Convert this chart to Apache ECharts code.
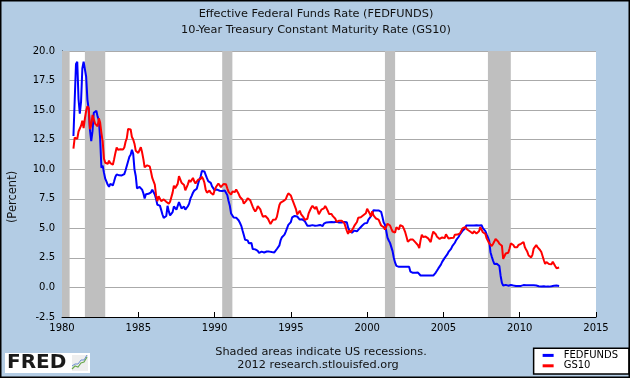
<!DOCTYPE html>
<html>
<head>
<meta charset="utf-8">
<script src="https://cdn.jsdelivr.net/npm/echarts@6/dist/echarts.min.js"></script>
<style>
html,body{margin:0;padding:0;background:#b3cce4;}
#chart{width:630px;height:378px;}
</style>
</head>
<body>
<div id="chart"></div>
<script>
// Monthly data, starting October 1980, ending August 2012
const startYear = 1980;
const startMonth = 10;

const fedfunds = [
  12.81, 15.85, 18.90,
  19.08, 15.93, 14.70, 15.72, 18.52, 19.10, 19.04, 17.82, 15.87, 15.08, 13.31, 12.37,
  13.22, 14.78, 14.68, 14.94, 14.45, 14.15, 12.59, 10.12, 10.31, 9.71, 9.20, 8.95,
  8.68, 8.51, 8.77, 8.80, 8.63, 8.98, 9.37, 9.56, 9.45, 9.48, 9.34, 9.47,
  9.56, 9.59, 9.91, 10.29, 10.32, 11.06, 11.23, 11.64, 11.30, 9.99, 9.43, 8.38,
  8.35, 8.50, 8.58, 8.27, 7.97, 7.53, 7.88, 7.90, 7.92, 7.99, 8.05, 8.27,
  8.14, 7.86, 7.48, 6.99, 6.85, 6.92, 6.56, 6.17, 5.89, 5.85, 6.04, 6.91,
  6.43, 6.10, 6.13, 6.37, 6.85, 6.73, 6.58, 6.73, 7.22, 7.29, 6.69, 6.77,
  6.83, 6.58, 6.58, 6.87, 7.09, 7.51, 7.75, 8.01, 8.19, 8.30, 8.35, 8.76,
  9.12, 9.36, 9.85, 9.84, 9.81, 9.53, 9.24, 8.99, 9.02, 8.84, 8.55, 8.45,
  8.23, 8.24, 8.28, 8.26, 8.18, 8.29, 8.15, 8.13, 8.20, 8.11, 7.81, 7.31,
  6.91, 6.25, 6.12, 5.91, 5.78, 5.90, 5.82, 5.66, 5.45, 5.21, 4.81, 4.43,
  4.03, 4.06, 3.98, 3.73, 3.82, 3.76, 3.25, 3.30, 3.22, 3.10, 3.09, 2.92,
  3.02, 3.03, 3.07, 2.96, 3.00, 3.04, 3.06, 3.03, 3.09, 2.99, 3.02, 2.96,
  3.05, 3.25, 3.34, 3.56, 4.01, 4.25, 4.26, 4.47, 4.73, 4.76, 5.29, 5.45,
  5.53, 5.92, 5.98, 6.05, 6.01, 6.00, 5.85, 5.74, 5.80, 5.76, 5.80, 5.60,
  5.56, 5.22, 5.31, 5.22, 5.24, 5.27, 5.40, 5.22, 5.30, 5.24, 5.31, 5.29,
  5.25, 5.19, 5.39, 5.51, 5.50, 5.56, 5.52, 5.54, 5.54, 5.50, 5.52, 5.50,
  5.56, 5.51, 5.49, 5.45, 5.49, 5.56, 5.54, 5.55, 5.51, 5.07, 4.83, 4.68,
  4.63, 4.76, 4.81, 4.74, 4.74, 4.76, 4.99, 5.07, 5.22, 5.20, 5.42, 5.30,
  5.45, 5.73, 5.85, 6.02, 6.27, 6.53, 6.54, 6.50, 6.52, 6.51, 6.51, 6.40,
  5.98, 5.49, 5.31, 4.80, 4.21, 3.97, 3.77, 3.65, 3.07, 2.49, 2.09, 1.82,
  1.73, 1.74, 1.73, 1.75, 1.75, 1.75, 1.73, 1.74, 1.75, 1.75, 1.34, 1.24,
  1.24, 1.26, 1.25, 1.26, 1.26, 1.22, 1.01, 1.03, 1.01, 1.01, 1.00, 0.98,
  1.00, 1.01, 1.00, 1.00, 1.00, 1.03, 1.26, 1.43, 1.61, 1.76, 1.93, 2.16,
  2.28, 2.50, 2.63, 2.79, 3.00, 3.04, 3.26, 3.50, 3.62, 3.78, 4.00, 4.16,
  4.29, 4.49, 4.59, 4.79, 4.94, 4.99, 5.24, 5.25, 5.25, 5.25, 5.25, 5.24,
  5.25, 5.26, 5.26, 5.25, 5.25, 5.25, 5.26, 5.02, 4.94, 4.76, 4.49, 4.24,
  3.94, 2.98, 2.61, 2.28, 1.98, 2.00, 2.01, 2.00, 1.81, 0.97, 0.39, 0.16,
  0.15, 0.22, 0.18, 0.15, 0.18, 0.21, 0.16, 0.16, 0.15, 0.12, 0.12, 0.12,
  0.11, 0.13, 0.16, 0.20, 0.20, 0.18, 0.18, 0.19, 0.19, 0.19, 0.19, 0.18,
  0.17, 0.16, 0.14, 0.10, 0.09, 0.09, 0.07, 0.10, 0.08, 0.07, 0.08, 0.07,
  0.08, 0.10, 0.13, 0.14, 0.16, 0.16, 0.16, 0.13
];

const gs10 = [
  11.75, 12.68, 12.84,
  12.57, 13.19, 13.12, 13.68, 14.10, 13.47, 14.28, 14.94, 15.32, 15.15, 13.39, 13.72,
  14.59, 14.43, 13.86, 13.87, 13.62, 14.30, 13.95, 13.06, 12.34, 10.91, 10.55, 10.54,
  10.46, 10.72, 10.51, 10.40, 10.38, 10.85, 11.38, 11.85, 11.65, 11.54, 11.69, 11.83,
  11.67, 11.84, 12.32, 12.63, 13.41, 13.56, 13.36, 12.72, 12.52, 12.16, 11.57, 11.50,
  11.38, 11.51, 11.86, 11.43, 10.85, 10.16, 10.31, 10.33, 10.37, 10.24, 9.78, 9.26,
  9.19, 8.70, 7.78, 7.30, 7.71, 7.80, 7.30, 7.17, 7.45, 7.43, 7.25, 7.11,
  7.08, 7.25, 7.25, 8.02, 8.61, 8.40, 8.45, 8.76, 9.42, 9.52, 8.86, 8.99,
  8.67, 8.21, 8.37, 8.72, 9.09, 8.92, 9.06, 9.26, 8.98, 8.80, 8.96, 9.11,
  9.09, 9.17, 9.36, 9.18, 8.86, 8.28, 8.02, 8.11, 8.19, 8.01, 7.87, 7.84,
  8.21, 8.47, 8.59, 8.79, 8.76, 8.48, 8.47, 8.75, 8.89, 8.72, 8.39, 8.08,
  8.09, 7.85, 8.11, 8.04, 8.07, 8.28, 8.27, 7.90, 7.65, 7.53, 7.42, 7.09,
  7.03, 7.34, 7.54, 7.48, 7.39, 7.26, 6.84, 6.59, 6.42, 6.59, 6.87, 6.77,
  6.60, 6.26, 5.98, 5.97, 6.04, 5.96, 5.81, 5.68, 5.36, 5.33, 5.72, 5.77,
  5.75, 5.97, 6.48, 6.97, 7.18, 7.10, 7.30, 7.24, 7.46, 7.74, 7.96, 7.81,
  7.78, 7.47, 7.20, 7.06, 6.63, 6.17, 6.28, 6.49, 6.20, 6.04, 5.93, 5.71,
  5.65, 5.81, 6.27, 6.51, 6.74, 6.91, 6.87, 6.64, 6.83, 6.53, 6.20, 6.30,
  6.58, 6.42, 6.69, 6.89, 6.71, 6.49, 6.22, 6.30, 6.21, 6.03, 5.88, 5.81,
  5.54, 5.57, 5.65, 5.64, 5.65, 5.50, 5.46, 5.34, 4.81, 4.53, 4.83, 4.65,
  4.72, 5.00, 5.23, 5.18, 5.54, 5.90, 5.79, 5.94, 5.92, 6.11, 6.03, 6.28,
  6.66, 6.52, 6.26, 5.99, 6.44, 6.10, 6.05, 5.83, 5.80, 5.74, 5.72, 5.24,
  5.16, 5.10, 4.89, 5.14, 5.39, 5.28, 5.24, 4.97, 4.73, 4.57, 4.65, 5.09,
  5.04, 4.91, 5.28, 5.21, 5.16, 4.93, 4.65, 4.26, 3.87, 3.94, 4.05, 4.03,
  4.05, 3.90, 3.81, 3.96, 3.57, 3.33, 3.98, 4.45, 4.27, 4.29, 4.30, 4.27,
  4.15, 4.08, 3.83, 4.35, 4.72, 4.73, 4.50, 4.28, 4.13, 4.10, 4.19, 4.23,
  4.22, 4.17, 4.50, 4.34, 4.14, 4.00, 4.18, 4.26, 4.20, 4.46, 4.54, 4.47,
  4.42, 4.57, 4.72, 4.99, 5.11, 5.11, 5.09, 4.88, 4.72, 4.73, 4.60, 4.56,
  4.76, 4.72, 4.56, 4.69, 4.75, 5.10, 5.00, 4.67, 4.52, 4.53, 4.15, 4.10,
  3.74, 3.74, 3.51, 3.68, 3.88, 4.10, 4.01, 3.89, 3.69, 3.81, 3.53, 2.42,
  2.52, 2.87, 2.82, 2.93, 3.29, 3.72, 3.56, 3.59, 3.40, 3.39, 3.40, 3.59,
  3.73, 3.69, 3.73, 3.85, 3.42, 3.20, 3.01, 2.70, 2.65, 2.54, 2.76, 3.29,
  3.39, 3.58, 3.41, 3.46, 3.17, 3.00, 3.00, 2.30, 1.98, 2.15, 2.01, 1.98,
  1.97, 1.97, 2.17, 2.05, 1.80, 1.62, 1.53, 1.68
];

// US recessions (peak month, trough month)
const recessions = [
  ['1980-01', '1980-07'],
  ['1981-07', '1982-11'],
  ['1990-07', '1991-03'],
  ['2001-03', '2001-11'],
  ['2007-12', '2009-06']
];

const seriesNames = ['FEDFUNDS', 'GS10'];
const titleLines = ['Effective Federal Funds Rate (FEDFUNDS)', '10-Year Treasury Constant Maturity Rate (GS10)'];
const footerLines = ['Shaded areas indicate US recessions.', '2012 research.stlouisfed.org'];
const xMin = 1980, xMax = 2015, xStep = 5;
const yMin = -2.5, yMax = 20, yStep = 2.5;

function monthX(i) { return startYear + (startMonth - 1 + i) / 12; }
function ym(s) { const p = s.split('-').map(Number); return p[0] + (p[1] - 1) / 12; }

const font = 'DejaVu Sans, Verdana, sans-serif';
const chart = echarts.init(document.getElementById('chart'), null, {renderer: 'canvas'});

chart.setOption({
  animation: false,
  backgroundColor: '#b3cce4',
  grid: {left: 62, right: 34, top: 51, bottom: 61, show: true, backgroundColor: '#ffffff', borderWidth: 0},
  xAxis: {
    type: 'value', min: xMin, max: xMax, interval: xStep,
    axisLine: {show: true, onZero: false, lineStyle: {color: '#000', width: 1}},
    axisTick: {show: true, inside: true, length: 5, lineStyle: {color: '#000'}},
    axisLabel: {color: '#000', fontSize: 10, fontFamily: font, margin: 6, formatter: v => String(Math.round(v))},
    splitLine: {show: false}
  },
  yAxis: {
    type: 'value', min: yMin, max: yMax, interval: yStep,
    axisLine: {show: true, lineStyle: {color: '#000', width: 1}},
    axisTick: {show: true, inside: true, length: 5, lineStyle: {color: '#000'}},
    axisLabel: {color: '#000', fontSize: 10, fontFamily: font, margin: 7, formatter: v => v.toFixed(1)},
    splitLine: {show: true, lineStyle: {color: '#aaaaaa', width: 1}}
  },
  legend: {
    data: seriesNames, orient: 'vertical', right: 1, bottom: 4,
    backgroundColor: '#ffffff', borderColor: '#000', borderWidth: 1.5, borderRadius: 0,
    padding: [2, 11, 3, 9], itemGap: 0, itemWidth: 11, itemHeight: 3, icon: 'rect',
    textStyle: {fontSize: 10, fontFamily: font, color: '#000', lineHeight: 10.4, padding: [0, 0, 0, 5]}
  },
  series: [
    {
      name: seriesNames[0], type: 'line', showSymbol: false, symbol: 'none',
      data: fedfunds.map((v, i) => [monthX(i), v]),
      lineStyle: {color: '#0000ff', width: 2}, itemStyle: {color: '#0000ff'},
      clip: true, z: 3,
      markArea: {
        silent: true, itemStyle: {color: '#bfbfbf'},
        data: recessions.map(r => [{xAxis: ym(r[0])}, {xAxis: ym(r[1])}])
      }
    },
    {
      name: seriesNames[1], type: 'line', showSymbol: false, symbol: 'none',
      data: gs10.map((v, i) => [monthX(i), v]),
      lineStyle: {color: '#ff0000', width: 2}, itemStyle: {color: '#ff0000'},
      clip: true, z: 4
    }
  ],
  graphic: [
    {type: 'text', x: 316, y: 14.5, style: {text: titleLines[0], font: '11.3px ' + font, fill: '#111', textAlign: 'center', textVerticalAlign: 'middle'}},
    {type: 'text', x: 316, y: 30.5, style: {text: titleLines[1], font: '11.3px ' + font, fill: '#111', textAlign: 'center', textVerticalAlign: 'middle'}},
    {type: 'text', x: 13, y: 197, rotation: Math.PI / 2, style: {text: '(Percent)', font: '11.5px ' + font, fill: '#111', textAlign: 'center', textVerticalAlign: 'middle'}},
    {type: 'text', x: 321, y: 351.7, style: {text: footerLines[0], font: '11.3px ' + font, fill: '#111', textAlign: 'center', textVerticalAlign: 'middle'}},
    {type: 'text', x: 318, y: 365, style: {text: footerLines[1], font: '11.3px ' + font, fill: '#111', textAlign: 'center', textVerticalAlign: 'middle'}},
    {type: 'rect', shape: {x: 5, y: 353, width: 85, height: 20}, style: {fill: '#ffffff'}},
    {type: 'text', x: 7, y: 363, style: {text: 'FRED', font: 'bold 20px DejaVu Sans, sans-serif', fill: '#1a1a1a', textAlign: 'left', textVerticalAlign: 'middle'}},
    {type: 'rect', shape: {x: 72, y: 355, width: 16, height: 16}, style: {fill: '#eeeeee'}},
    {type: 'polyline', shape: {points: [[72, 369], [75, 366], [78, 367], [81, 363], [84, 362], [87, 357]]}, style: {stroke: '#6aa84f', lineWidth: 1.2, fill: null}},
    {type: 'polyline', shape: {points: [[72, 366], [75, 364], [78, 364], [81, 360], [84, 360], [87, 355]]}, style: {stroke: '#6d8fd0', lineWidth: 1, fill: null}},
    {type: 'rect', z: 100, shape: {x: 0, y: 0, width: 630, height: 378}, style: {fill: null, stroke: '#000', lineWidth: 3}}
  ]
});
</script>
</body>
</html>
